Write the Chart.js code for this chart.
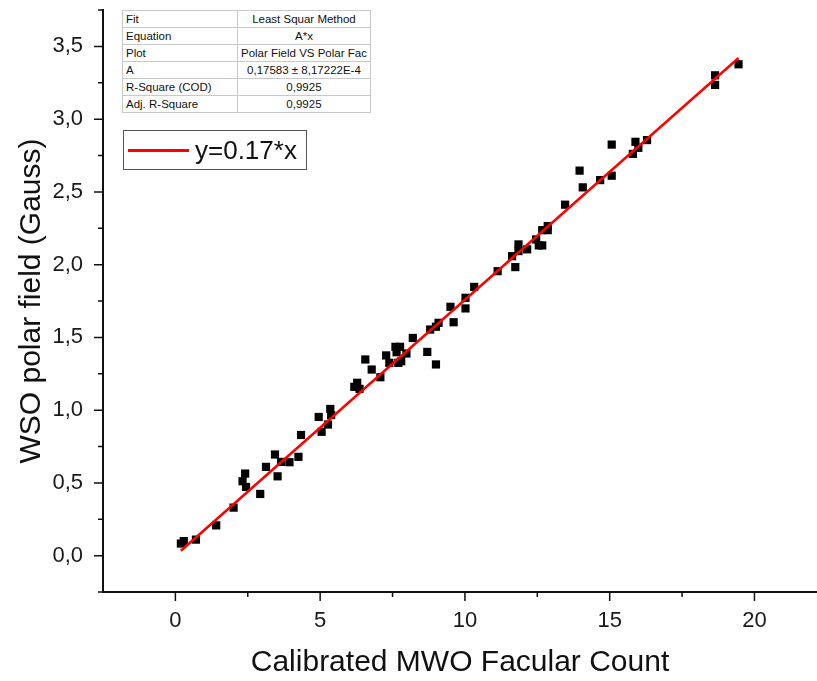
<!DOCTYPE html>
<html>
<head>
<meta charset="utf-8">
<script src="https://cdn.jsdelivr.net/npm/chart.js@4.4.0/dist/chart.umd.min.js"></script>
<style>
html, body { margin: 0; padding: 0; background: #fff; }
#wrap { position: relative; width: 817px; height: 681px; }
#fitTable {
    position: absolute; left: 122px; top: 10px;
    border-collapse: collapse;
    font-family: "Liberation Sans", Arial, sans-serif;
    font-size: 11.5px; color: #111; background: #fff;
    border: 1px solid #999;
}
#fitTable td { border: 1px solid #c8c8c8; height: 16px; padding: 0 3px; line-height: 16px; white-space: nowrap; }
#fitTable td:first-child { width: 108px; text-align: left; }
#fitTable td:last-child { width: 118px; text-align: center; }
#legendBox {
    position: absolute; left: 123px; top: 130px; width: 182px; height: 38px;
    border: 1.5px solid #555; background: #fff;
    font-family: "Liberation Sans", Arial, sans-serif; font-size: 26px; color: #111;
}
#legendBox .swatch { position: absolute; left: 4px; top: 18px; width: 61px; height: 3px; background: #f00; }
#legendBox .label { position: absolute; left: 71px; top: 4px; line-height: 30px; }
</style>
</head>
<body>
<div id="wrap">
    <canvas id="chart" width="817" height="681"></canvas>
    <table id="fitTable">
        <tr><td>Fit</td><td>Least Squar Method</td></tr>
        <tr><td>Equation</td><td>A*x</td></tr>
        <tr><td>Plot</td><td>Polar Field VS Polar Fac</td></tr>
        <tr><td>A</td><td>0,17583 ± 8,17222E-4</td></tr>
        <tr><td>R-Square (COD)</td><td>0,9925</td></tr>
        <tr><td>Adj. R-Square</td><td>0,9925</td></tr>
    </table>
    <div id="legendBox"><span class="swatch"></span><span class="label">y=0.17*x</span></div>
</div>
<script>
// calibrated MWO facular count vs WSO polar field
const X_VALUES = [0.19, 0.29, 0.71, 1.41, 2.01, 2.32, 2.41, 2.44, 2.93, 3.13,
    3.44, 3.53, 3.65, 3.94, 4.25, 4.34, 4.95, 5.05, 5.27, 5.35,
    5.38, 6.18, 6.28, 6.36, 6.56, 6.78, 7.08, 7.28, 7.39, 7.60,
    7.76, 7.64, 7.70, 7.80, 7.98, 8.20, 8.70, 8.80, 9.00, 9.00,
    9.09, 9.50, 9.61, 10.02, 10.02, 10.32, 11.13, 11.63, 11.74, 11.85,
    11.85, 12.15, 12.46, 12.55, 12.67, 12.67, 12.86, 12.86, 13.46, 13.96,
    14.07, 14.67, 15.07, 15.07, 15.80, 15.89, 15.99, 16.29, 18.64, 18.64,
    19.45];
const Y_VALUES = [0.083, 0.100, 0.110, 0.208, 0.330, 0.511, 0.564, 0.472, 0.424, 0.610,
    0.695, 0.545, 0.644, 0.642, 0.679, 0.829, 0.953, 0.851, 0.901, 1.008,
    0.966, 1.160, 1.188, 1.146, 1.348, 1.279, 1.226, 1.376, 1.325, 1.435,
    1.435, 1.398, 1.325, 1.336, 1.389, 1.496, 1.400, 1.554, 1.314, 1.573,
    1.600, 1.710, 1.604, 1.699, 1.772, 1.847, 1.955, 2.058, 1.983, 2.093,
    2.139, 2.105, 2.173, 2.132, 2.132, 2.237, 2.265, 2.237, 2.412, 2.646,
    2.531, 2.581, 2.611, 2.825, 2.761, 2.844, 2.803, 2.856, 3.301, 3.235,
    3.377];
const FIT_A = 0.17583;

const X_MAJOR = [0, 5, 10, 15, 20];
const X_MINOR = [2.5, 7.5, 12.5, 17.5];
const Y_MAJOR = [0, 0.5, 1.0, 1.5, 2.0, 2.5, 3.0, 3.5];
const Y_MINOR = [-0.25, 0.25, 0.75, 1.25, 1.75, 2.25, 2.75, 3.25, 3.75];

const FONT = "'Liberation Sans', Arial, sans-serif";

const points = X_VALUES.map((x, i) => ({ x: x, y: Y_VALUES[i] }));
const xLo = Math.min(...X_VALUES);
const xHi = Math.max(...X_VALUES);
const fitLine = [{ x: xLo, y: FIT_A * xLo }, { x: xHi, y: FIT_A * xHi }];

// hand-drawn tick marks so majors and minors get different lengths
const axisTicks = {
    id: 'axisTicks',
    afterDraw(chart) {
        const { ctx, chartArea, scales: { x, y } } = chart;
        ctx.save();
        ctx.strokeStyle = '#111';
        ctx.lineWidth = 1.5;
        ctx.beginPath();
        X_MAJOR.forEach(v => {
            const px = x.getPixelForValue(v);
            ctx.moveTo(px, chartArea.bottom); ctx.lineTo(px, chartArea.bottom + 9);
        });
        X_MINOR.forEach(v => {
            const px = x.getPixelForValue(v);
            ctx.moveTo(px, chartArea.bottom); ctx.lineTo(px, chartArea.bottom + 5);
        });
        Y_MAJOR.forEach(v => {
            const py = y.getPixelForValue(v);
            ctx.moveTo(chartArea.left, py); ctx.lineTo(chartArea.left - 9, py);
        });
        Y_MINOR.forEach(v => {
            const py = y.getPixelForValue(v);
            ctx.moveTo(chartArea.left, py); ctx.lineTo(chartArea.left - 5, py);
        });
        ctx.stroke();
        ctx.restore();
    }
};

new Chart(document.getElementById('chart'), {
    type: 'scatter',
    data: {
        datasets: [
            {
                label: 'y=0.17*x',
                data: fitLine,
                showLine: true,
                borderColor: '#ff0000',
                borderWidth: 2.5,
                pointRadius: 0,
                order: 0
            },
            {
                label: 'Polar Field VS Polar Fac',
                data: points,
                pointStyle: 'rect',
                pointRadius: 5.8,
                backgroundColor: '#000',
                borderColor: '#000',
                borderWidth: 0,
                order: 1
            }
        ]
    },
    options: {
        responsive: false,
        animation: false,
        devicePixelRatio: 1,
        layout: { autoPadding: false, padding: { top: 10, right: 0, bottom: 0, left: 0 } },
        plugins: {
            legend: { display: false },
            tooltip: { enabled: false }
        },
        scales: {
            x: {
                type: 'linear',
                position: 'bottom',
                min: -2.5,
                max: 22.16,
                afterBuildTicks: s => { s.ticks = X_MAJOR.map(v => ({ value: v })); },
                afterFit: s => { s.height = 89; s.paddingLeft = 0; s.paddingRight = 0; },
                grid: { display: false, drawTicks: false },
                border: { display: true, color: '#111', width: 2 },
                ticks: {
                    padding: 16,
                    color: '#1a1a1a',
                    font: { family: FONT, size: 22 },
                    maxRotation: 0,
                    callback: v => String(v)
                },
                title: {
                    display: true,
                    text: 'Calibrated MWO Facular Count',
                    color: '#111',
                    font: { family: FONT, size: 30 },
                    padding: { top: 0, bottom: 0 }
                }
            },
            y: {
                type: 'linear',
                min: -0.25,
                max: 3.75,
                afterBuildTicks: s => { s.ticks = Y_MAJOR.map(v => ({ value: v })); },
                afterFit: s => { s.width = 103; s.paddingTop = 0; s.paddingBottom = 0; },
                grid: { display: false, drawTicks: false },
                border: { display: true, color: '#111', width: 2 },
                ticks: {
                    padding: 20,
                    color: '#1a1a1a',
                    font: { family: FONT, size: 22 },
                    callback: v => v.toFixed(1).replace('.', ',')
                },
                title: {
                    display: true,
                    text: 'WSO polar field (Gauss)',
                    color: '#111',
                    font: { family: FONT, size: 30 },
                    padding: { top: 14, bottom: 0 }
                }
            }
        }
    },
    plugins: [axisTicks]
});
</script>
</body>
</html>
